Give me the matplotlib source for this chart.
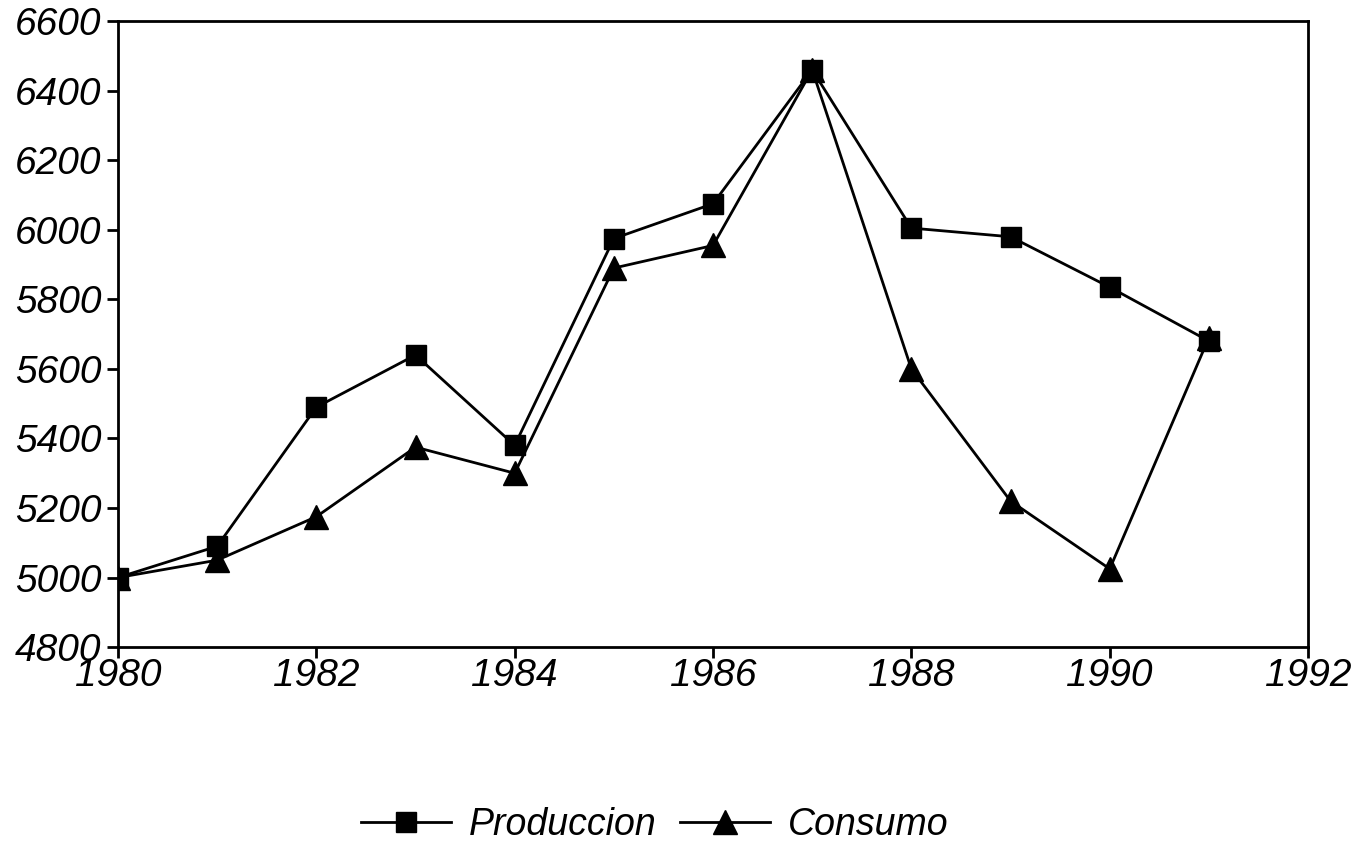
import matplotlib.pyplot as plt

# Datos
anios = [1980, 1981, 1982, 1983, 1984, 1985, 1986, 1987, 1988, 1989, 1990, 1991]
produccion = [5000, 5090, 5490, 5640, 5380, 5975, 6075, 6460, 6005, 5980, 5835, 5680]
consumo = [5000, 5050, 5175, 5375, 5300, 5890, 5955, 6460, 5600, 5220, 5025, 5690]

plt.rcParams['font.family'] = ['Liberation Sans', 'DejaVu Sans']
plt.rcParams['font.style'] = 'italic'

fig = plt.figure(figsize=(13.64, 8.47), dpi=100)
ax = fig.add_axes([0.0865, 0.236, 0.8725, 0.739])

ax.plot(anios, produccion, color='black', lw=2, marker='s', markersize=15,
        label='Produccion')
ax.plot(anios, consumo, color='black', lw=2, marker='^', markersize=17,
        label='Consumo')

ax.set_xlim(1980, 1992)
ax.set_ylim(4800, 6600)
ax.set_xticks(range(1980, 1993, 2))
ax.set_yticks(range(4800, 6601, 200))

for s in ax.spines.values():
    s.set_linewidth(2)
ax.tick_params(direction='out', length=8, width=2, labelsize=28)
ax.tick_params(axis='y', pad=4)
ax.tick_params(axis='x', pad=0)
for t in ax.get_xticklabels() + ax.get_yticklabels():
    t.set_fontstyle('italic')

leg = fig.legend(loc='lower center', bbox_to_anchor=(0.48, -0.035), ncol=2,
                 frameon=False, fontsize=27, handlelength=2.4,
                 columnspacing=0.6, handletextpad=0.5)
for t in leg.get_texts():
    t.set_fontstyle('italic')

fig.savefig('out.png', dpi=100)
